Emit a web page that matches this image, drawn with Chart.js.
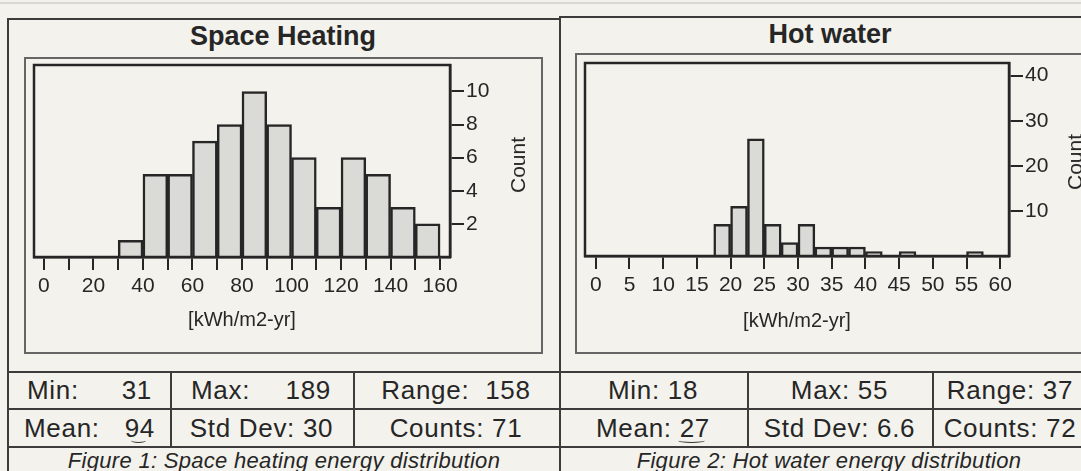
<!DOCTYPE html>
<html>
<head>
<meta charset="utf-8">
<title>Energy distribution</title>
<script src="https://cdn.jsdelivr.net/npm/chart.js@4.4.1/dist/chart.umd.min.js"></script>
<style>
  body {
    margin: 0;
    width: 1081px;
    height: 471px;
    overflow: hidden;
    position: relative;
    background: #f3f2ec;
    color: #262626;
    font-family: "Liberation Sans", Arial, Helvetica, sans-serif;
  }
  .hline { position: absolute; height: 0; border-top: 2px solid #3c3c3c; }
  .vline { position: absolute; width: 0; border-left: 2px solid #3c3c3c; }
  .frame { position: absolute; border: 2px solid #666; box-sizing: border-box; }
  .title {
    position: absolute;
    font-weight: bold;
    font-size: 27px;
    white-space: nowrap;
    transform: translate(-50%, -50%);
  }
  .count {
    position: absolute;
    font-size: 21px;
    white-space: nowrap;
    transform: translate(-50%, -50%) rotate(-90deg);
  }
  .cell {
    position: absolute;
    display: flex;
    align-items: center;
    justify-content: center;
    box-sizing: border-box;
    font-size: 26px;
    letter-spacing: 0.7px;
    white-space: pre;
  }
  .cell.split { justify-content: space-between; }
  .caption {
    position: absolute;
    font-size: 22px;
    font-style: italic;
    letter-spacing: 0.3px;
    white-space: nowrap;
    transform: translate(-50%, -50%);
  }
  .mark {
    position: absolute;
    height: 4px;
    border-bottom: 1.5px solid #333;
    border-radius: 50%;
  }
  canvas { position: absolute; }
</style>
</head>
<body>

<!-- paper edge -->
<div class="hline" style="left:0; top:2px; width:1081px; border-top:2px solid #d9d9d4"></div>

<!-- outer table lines -->
<div class="hline" style="left:7px; top:18px; width:553px"></div>
<div class="hline" style="left:559px; top:16px; width:530px"></div>
<div class="vline" style="left:7px; top:18px; height:460px"></div>
<div class="vline" style="left:559px; top:16px; height:460px"></div>
<div class="hline" style="left:7px; top:371px; width:1080px"></div>
<div class="hline" style="left:7px; top:408px; width:1080px"></div>
<div class="hline" style="left:7px; top:446px; width:1080px"></div>
<div class="vline" style="left:170px; top:371px; height:76px"></div>
<div class="vline" style="left:353px; top:371px; height:76px"></div>
<div class="vline" style="left:747px; top:371px; height:76px"></div>
<div class="vline" style="left:932px; top:371px; height:76px"></div>

<!-- chart frames -->
<div class="frame" style="left:24px; top:57px; width:519px; height:297px"></div>
<div class="frame" style="left:575px; top:53px; width:540px; height:301px"></div>

<div class="title" style="left:283px; top:36px">Space Heating</div>
<div class="title" style="left:830px; top:34px">Hot water</div>

<canvas id="heat" width="517" height="294" style="left:25px; top:58px"></canvas>
<canvas id="water" width="505" height="299" style="left:576px; top:54px"></canvas>

<div class="count" style="left:518px; top:165px">Count</div>
<div class="count" style="left:1075px; top:162px">Count</div>

<!-- statistics -->
<div class="cell split" style="left:7px; top:372px; width:163px; height:37px; padding:0 18px 0 20px"><span>Min:</span><span>31</span></div>
<div class="cell split" style="left:170px; top:372px; width:183px; height:37px; padding:0 22px 0 21px"><span>Max:</span><span>189</span></div>
<div class="cell" style="left:353px; top:372px; width:206px; height:37px">Range:  158</div>
<div class="cell split" style="left:7px; top:409px; width:163px; height:38px; padding:0 15px 0 17px"><span>Mean:</span><span>94</span></div>
<div class="cell" style="left:170px; top:409px; width:183px; height:38px">Std Dev: 30</div>
<div class="cell" style="left:353px; top:409px; width:206px; height:38px">Counts: 71</div>

<div class="cell" style="left:559px; top:372px; width:188px; height:37px">Min: 18</div>
<div class="cell" style="left:747px; top:372px; width:185px; height:37px">Max: 55</div>
<div class="cell" style="left:932px; top:372px; width:156px; height:37px">Range: 37</div>
<div class="cell" style="left:559px; top:409px; width:188px; height:38px">Mean: 27</div>
<div class="cell" style="left:747px; top:409px; width:185px; height:38px">Std Dev: 6.6</div>
<div class="cell" style="left:932px; top:409px; width:156px; height:38px">Counts: 72</div>

<div class="mark" style="left:131px; top:438px; width:15px"></div>
<div class="mark" style="left:678px; top:438px; width:27px"></div>

<div class="caption" style="left:284px; top:461px">Figure 1: Space heating energy distribution</div>
<div class="caption" style="left:829px; top:461px">Figure 2: Hot water energy distribution</div>

<script>
// space heating, bins 10 kWh/m2-yr wide
const heatBinStarts = [30, 40, 50, 60, 70, 80, 90, 100, 110, 120, 130, 140, 150]
const heatCounts = [1, 5, 5, 7, 8, 10, 8, 6, 3, 6, 5, 3, 2]
const heatBinWidth = 10
const heatXTicks = [0, 10, 20, 30, 40, 50, 60, 70, 80, 90, 100, 110, 120, 130, 140, 150, 160]
const heatXLabels = [0, 20, 40, 60, 80, 100, 120, 140, 160]
const heatYTicks = [2, 4, 6, 8, 10]

// hot water, bins 2.5 wide (empty bins left out)
const waterBinStarts = [17.5, 20, 22.5, 25, 27.5, 30, 32.5, 35, 37.5, 40, 45, 55]
const waterCounts = [7, 11, 26, 7, 3, 7, 2, 2, 2, 1, 1, 1]
const waterBinWidth = 2.5
const waterXTicks = [0, 5, 10, 15, 20, 25, 30, 35, 40, 45, 50, 55, 60]
const waterXLabels = [0, 5, 10, 15, 20, 25, 30, 35, 40, 45, 50, 55, 60]
const waterYTicks = [10, 20, 30, 40]

const ink = '#262626'
const family = '"Liberation Sans", Arial, Helvetica, sans-serif'

// box round the plot area
const framePlugin = {
    id: 'frame',
    afterDraw(chart) {
        const { ctx, chartArea: a } = chart
        ctx.save()
        ctx.strokeStyle = ink
        ctx.lineWidth = 2.5
        ctx.strokeRect(a.left, a.top, a.right - a.left, a.bottom - a.top)
        ctx.restore()
    }
}

function histogram(id, o) {
    new Chart(document.getElementById(id), {
        type: 'bar',
        data: {
            datasets: [{
                data: o.starts.map((s, i) => ({ x: s + o.width / 2, y: o.counts[i] })),
                backgroundColor: '#dadad6',
                borderColor: ink,
                borderWidth: 2.5,
                barPercentage: 1,
                categoryPercentage: 1
            }]
        },
        options: {
            responsive: false,
            animation: false,
            layout: { padding: o.padding },
            plugins: { legend: { display: false }, tooltip: { enabled: false } },
            scales: {
                x: {
                    type: 'linear',
                    min: o.xMin,
                    max: o.xMax,
                    offset: false,
                    afterBuildTicks: s => { s.ticks = o.xTicks.map(v => ({ value: v })) },
                    afterFit: s => {
                        s.height = o.xHeight
                        s.paddingLeft = 0
                        s.paddingRight = 0
                    },
                    ticks: {
                        autoSkip: false,
                        maxRotation: 0,
                        padding: 4,
                        color: ink,
                        font: { family, size: 21 },
                        callback: v => o.xLabels.includes(v) ? String(v) : ''
                    },
                    grid: { offset: false, drawOnChartArea: false, tickLength: 13, color: ink, lineWidth: 2 },
                    border: { color: ink, width: 2.5 },
                    title: {
                        display: true,
                        text: '[kWh/m2-yr]',
                        color: ink,
                        font: { family, size: 20 },
                        padding: { top: 0, bottom: 20 }
                    }
                },
                y: {
                    position: 'right',
                    min: 0,
                    max: o.yMax,
                    afterBuildTicks: s => { s.ticks = o.yTicks.map(v => ({ value: v })) },
                    afterFit: s => {
                        s.width = o.yWidth
                        s.paddingTop = 0
                        s.paddingBottom = 0
                    },
                    ticks: { padding: 2, color: ink, font: { family, size: 21 } },
                    grid: { drawOnChartArea: false, tickLength: 14, color: ink, lineWidth: 2 },
                    border: { color: ink, width: 2.5 }
                }
            }
        },
        plugins: [framePlugin]
    })
}

histogram('heat', {
    starts: heatBinStarts, counts: heatCounts, width: heatBinWidth,
    xTicks: heatXTicks, xLabels: heatXLabels, yTicks: heatYTicks,
    xMin: -4, xMax: 164, yMax: 11.6,
    padding: { left: 9, top: 7, right: 0, bottom: 0 },
    xHeight: 95, yWidth: 92
})

histogram('water', {
    starts: waterBinStarts, counts: waterCounts, width: waterBinWidth,
    xTicks: waterXTicks, xLabels: waterXLabels, yTicks: waterYTicks,
    xMin: -1.6, xMax: 61.3, yMax: 42.8,
    padding: { left: 9, top: 9, right: 0, bottom: 0 },
    xHeight: 97, yWidth: 72
})
</script>
</body>
</html>
